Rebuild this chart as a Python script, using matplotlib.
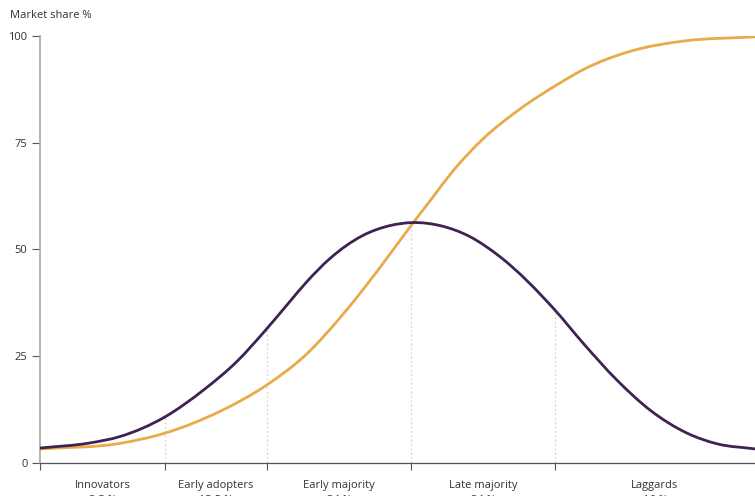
import numpy as np
import matplotlib
matplotlib.use("Agg")
import matplotlib.pyplot as plt
import matplotlib.transforms as mtransforms
from matplotlib.path import Path
from matplotlib.patches import PathPatch

plt.rcParams['font.family'] = ['Open Sans', 'DejaVu Sans']

# adoption curve (bell), x in arbitrary position units
adopt_x = [0, 50, 80, 125, 163, 197, 227, 248, 267, 290, 323, 350, 372,
           400, 430, 460, 515, 543, 577, 610, 647, 677, 715]
adopt_y = [3.5, 4.7, 6.2, 10.8, 17.0, 23.8, 31.5, 37.3, 42.5, 47.9, 53.3, 55.6, 56.3,
           55.6, 53.0, 48.3, 35.8, 28.1, 19.4, 12.4, 7.0, 4.5, 3.3]

# cumulative market share (s-curve)
share_x = [0, 80, 125, 180, 227, 267, 300, 323, 353, 373, 392, 413, 443, 477, 520, 543, 593, 643, 715]
share_y = [3.3, 4.6, 7.0, 12.1, 18.3, 25.6, 34.0, 40.6, 49.9, 56.2, 62.0, 68.4, 75.9, 82.4, 89.0, 92.1, 96.6, 98.8, 99.8]

bounds = [0, 125, 227, 371, 515, 715]
groups = ['Innovators', 'Early adopters', 'Early majority', 'Late majority', 'Laggards']
shares = ['2.5 %', '13.5 %', '34 %', '34 %', '16 %']

purple = '#3f2251'
orange = '#e8aa4b'
textc = '#333333'


def smooth_path(xs, ys):
    # hermite segments through the points, handed to matplotlib as cubic beziers
    x = np.asarray(xs, float)
    y = np.asarray(ys, float)
    m = np.gradient(y, x)
    m[0] = (y[1] - y[0]) / (x[1] - x[0])
    m[-1] = (y[-1] - y[-2]) / (x[-1] - x[-2])
    verts = [(x[0], y[0])]
    codes = [Path.MOVETO]
    for i in range(len(x) - 1):
        h = (x[i + 1] - x[i]) / 3
        verts += [(x[i] + h, y[i] + h * m[i]),
                  (x[i + 1] - h, y[i + 1] - h * m[i + 1]),
                  (x[i + 1], y[i + 1])]
        codes += [Path.CURVE4] * 3
    return Path(verts, codes)


fig = plt.figure(figsize=(7.55, 4.96), dpi=100)
ax = fig.add_axes([40 / 755, 33 / 496, 715 / 755, 427 / 496])

# dotted drop lines at the group boundaries, up to the bell curve
for b in bounds[1:-1]:
    ax.plot([b, b], [0, np.interp(b, adopt_x, adopt_y)], color='#d5d5d5',
            lw=0.9, ls=(0, (1.5, 2)), zorder=1)

ax.add_patch(PathPatch(smooth_path(share_x, share_y), fill=False, edgecolor=orange,
                       lw=2.0, zorder=3, capstyle='round'))
ax.add_patch(PathPatch(smooth_path(adopt_x, adopt_y), fill=False, edgecolor=purple,
                       lw=2.0, zorder=4, capstyle='round'))

ax.set_xlim(0, 715)
ax.set_ylim(0, 100)
ax.set_yticks([0, 25, 50, 75, 100])
ax.set_xticks(bounds[:-1])
ax.set_xticklabels([])
ax.tick_params(axis='y', colors='#555555', labelcolor=textc, labelsize=8, length=6, width=0.8, pad=3)
ax.tick_params(axis='x', colors='#555555', length=5, width=0.8)

for s in ['top', 'right']:
    ax.spines[s].set_visible(False)
ax.spines['left'].set_color('#a8a8a8')
ax.spines['left'].set_linewidth(1.2)
ax.spines['bottom'].set_color('#555555')
ax.spines['bottom'].set_linewidth(0.9)

trans = mtransforms.blended_transform_factory(ax.transData, ax.transAxes)
for i, g in enumerate(groups):
    mid = (bounds[i] + bounds[i + 1]) / 2
    ax.text(mid, -0.04, g + '\n' + shares[i], transform=trans, ha='center', va='top',
            fontsize=8, color=textc, linespacing=1.45)

fig.text(10 / 755, 1 - 16 / 496, 'Market share %', fontsize=8, color=textc, va='center', ha='left')

fig.savefig('out.png', dpi=100, facecolor='white')
